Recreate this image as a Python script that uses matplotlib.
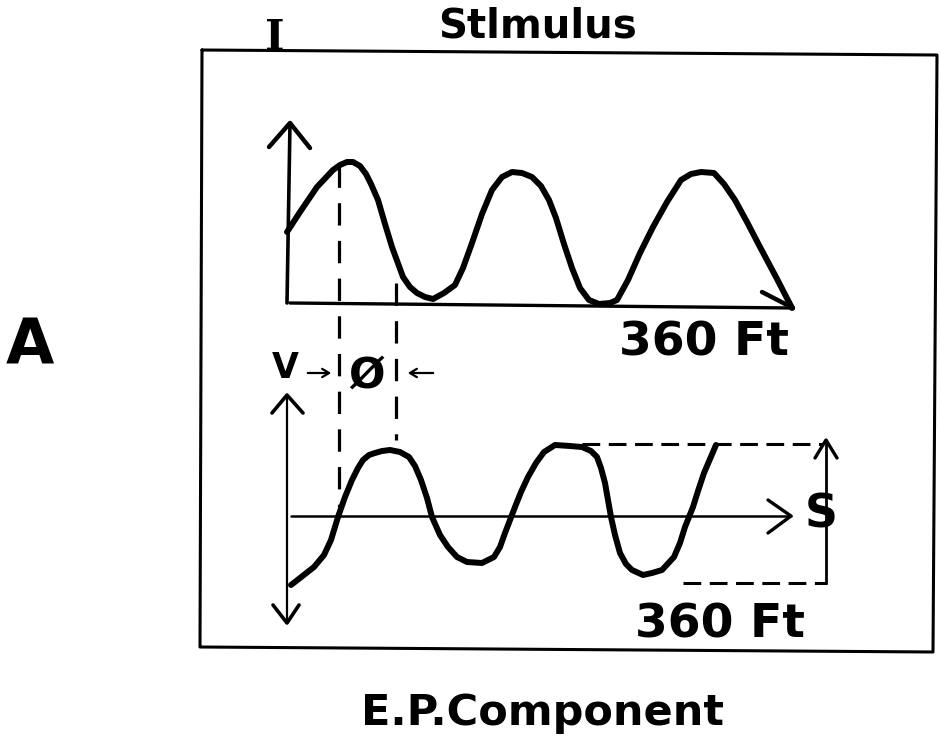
import matplotlib.pyplot as plt

# frame of panel A (scan is slightly skewed)
frame_x = [202, 937, 933, 200, 202]
frame_y = [50, 55, 652, 647, 50]

# stimulus waveform (upper trace)
top_x = [287, 300, 317, 333, 340, 347, 353, 360, 366, 371, 378, 385, 392, 403, 410, 417, 425, 433,
         444, 455, 463, 472, 482, 492, 502, 512, 522, 532, 541, 549, 556, 564, 572, 580, 589,
         599, 610, 617, 628, 640, 653, 667, 681, 691, 701, 714, 724, 735, 747, 760, 776, 792]
top_y = [232, 212, 187, 170, 165, 162, 162, 166, 174, 184, 200, 224, 247, 277, 287, 293, 297, 299,
         293, 285, 268, 243, 214, 190, 177, 172, 173, 177, 186, 200, 218, 244, 268, 288, 300,
         304, 303, 300, 280, 253, 227, 202, 180, 174, 172, 173, 184, 200, 222, 247, 277, 308]

# E.P. component waveform (lower trace)
ep_x = [291, 300, 314, 324, 331, 338, 345, 352, 358, 363, 369, 375, 382, 390, 400, 409, 415, 421, 427,
        432, 440, 448, 457, 467, 482, 494, 500, 505, 515, 521, 528, 536, 544, 555, 570,
        582, 591, 597, 601, 605, 608, 611, 615, 620, 626, 632, 643, 652, 662, 674, 680,
        685, 693, 698, 704, 710, 716]
ep_y = [585, 578, 567, 555, 540, 517, 497, 480, 468, 460, 455, 453, 451, 450, 452, 457, 466, 480, 498,
        517, 535, 547, 557, 562, 563, 557, 547, 533, 507, 492, 477, 463, 452, 445, 446,
        447, 451, 457, 468, 483, 500, 517, 535, 553, 564, 570, 575, 573, 570, 557, 543,
        527, 507, 491, 473, 459, 445]

# axes of both traces
top_yaxis_x, top_yaxis_y = [287, 290], [303, 123]
top_yhead_x, top_yhead_y = [269, 290, 310], [147, 123, 148]
top_xaxis_x, top_xaxis_y = [290, 793], [303, 308]
top_xhead_x, top_xhead_y = [762, 793], [292, 308]
ep_yaxis_x, ep_yaxis_y = [287, 287], [395, 623]
ep_yhead_top_x, ep_yhead_top_y = [272, 287, 303], [413, 395, 413]
ep_yhead_bot_x, ep_yhead_bot_y = [273, 287, 299], [605, 623, 605]
ep_xaxis_x, ep_xaxis_y = [291, 791], [516, 516]
ep_xhead_x, ep_xhead_y = [768, 791, 768], [500, 516, 533]

# amplitude marker S
s_x, s_y = [826, 826], [583, 440]
s_head_x, s_head_y = [815, 826, 837], [458, 440, 458]
s_top_x, s_top_y = [582, 823], [444, 444]
s_bot_x, s_bot_y = [683, 827], [583, 583]

# phase lines
ph1_x, ph1_y = [339, 339], [165, 507]
ph2_x, ph2_y = [396, 396], [283, 440]

fig = plt.figure(figsize=(9.41, 7.45), dpi=100)
ax = fig.add_axes([0, 0, 1, 1])
ax.set_xlim(0, 941)
ax.set_ylim(745, 0)
ax.axis('off')

k = dict(color='black', solid_capstyle='round', solid_joinstyle='round')
ax.plot(frame_x, frame_y, lw=2.2, **k)
ax.plot(top_x, top_y, lw=4.3, **k)
ax.plot(ep_x, ep_y, lw=4.3, **k)

for xs, ys, w in [(top_yaxis_x, top_yaxis_y, 2.6), (top_yhead_x, top_yhead_y, 3.2),
                  (top_xaxis_x, top_xaxis_y, 2.4), (top_xhead_x, top_xhead_y, 3.2),
                  (ep_yaxis_x, ep_yaxis_y, 1.6), (ep_yhead_top_x, ep_yhead_top_y, 2.6),
                  (ep_yhead_bot_x, ep_yhead_bot_y, 2.6), (ep_xaxis_x, ep_xaxis_y, 1.8),
                  (ep_xhead_x, ep_xhead_y, 2.4), (s_x, s_y, 2.0), (s_head_x, s_head_y, 2.4)]:
    ax.plot(xs, ys, lw=w, **k)

# dashed guides
ax.plot(ph1_x, ph1_y, color='black', lw=2.3, dashes=(7.0, 4.8))
ax.plot(ph2_x, ph2_y, color='black', lw=2.3, dashes=(7.0, 4.8))
ax.plot(s_top_x, s_top_y, color='black', lw=2.2, dashes=(5.8, 2.8))
ax.plot(s_bot_x, s_bot_y, color='black', lw=2.2, dashes=(5.8, 2.8))

# small arrows around phase angle
ax.annotate('', xy=(334, 373), xytext=(305, 373),
            arrowprops=dict(arrowstyle='->,head_length=0.5,head_width=0.3', lw=1.6, color='black'))
ax.annotate('', xy=(405, 373), xytext=(436, 373),
            arrowprops=dict(arrowstyle='->,head_length=0.5,head_width=0.3', lw=1.6, color='black'))

f = 'DejaVu Sans'
ax.text(275, 50, 'I', fontsize=30, family='DejaVu Serif', weight='bold', ha='center', va='baseline')
ax.text(538, 38, 'Stlmulus', fontsize=29, family=f, weight='bold', ha='center', va='baseline')
ax.text(30, 363, 'A', fontsize=45, family=f, weight='bold', ha='center', va='baseline')
ax.text(704, 355, '360 Ft', fontsize=34, family=f, weight='bold', ha='center', va='baseline')
ax.text(720, 638, '360 Ft', fontsize=34, family=f, weight='bold', ha='center', va='baseline')
ax.text(285, 378, 'V', fontsize=25, family=f, weight='bold', ha='center', va='baseline')
ax.text(366, 388, 'Ø', fontsize=31, family=f, weight='bold', ha='center', va='baseline')
ax.text(821, 528, 'S', fontsize=33, family=f, weight='bold', ha='center', va='baseline')
ax.text(543, 725, 'E.P.Component', fontsize=31, family=f, weight='bold', ha='center', va='baseline')

fig.savefig('out.png', dpi=100)
